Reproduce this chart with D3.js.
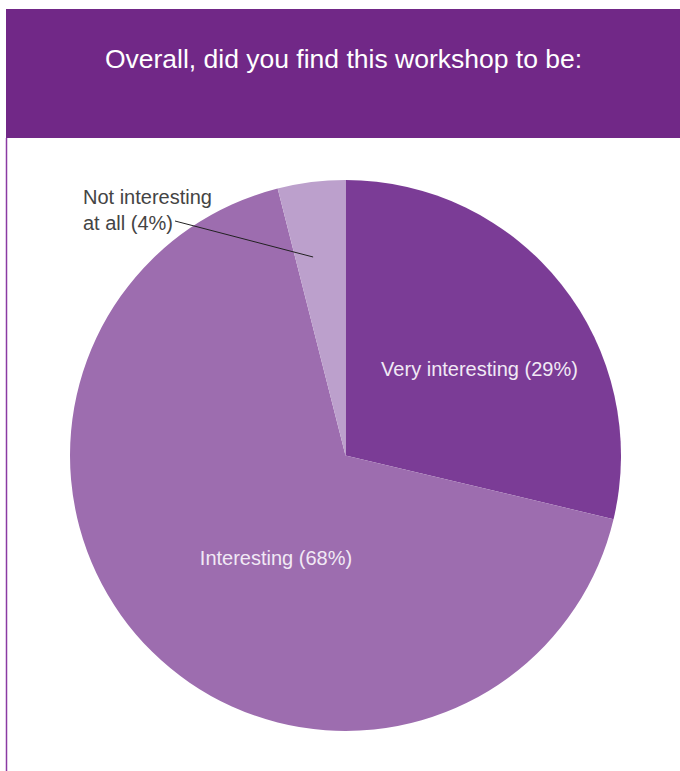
<!DOCTYPE html>
<html>
<head>
<meta charset="utf-8">
<script src="https://cdn.jsdelivr.net/npm/d3@7"></script>
<style>
  html, body { margin: 0; padding: 0; background: #fff; }
  svg { display: block; }
  text { font-family: "Liberation Sans", Arial, Helvetica, sans-serif; }
</style>
</head>
<body>
<svg id="chart" width="680" height="771"></svg>
<script>
// Survey responses, clockwise from 12 o'clock
const categories = ["Very interesting", "Interesting", "Not interesting at all"];
const percents = [29, 68, 4];
const sliceColors = ["#7b3c96", "#9d6daf", "#bca0cc"];
const title = "Overall, did you find this workshop to be:";

const svg = d3.select("#chart");
const W = 680, H = 771;

// Header band
svg.append("rect")
  .attr("x", 6).attr("y", 9).attr("width", W - 6).attr("height", 129)
  .attr("fill", "#712887");
svg.append("text")
  .attr("x", 343.5).attr("y", 68)
  .attr("text-anchor", "middle")
  .attr("fill", "#ffffff")
  .attr("font-size", 26.5)
  .text(title);

// Left frame rule below the header
svg.append("line")
  .attr("x1", 6.5).attr("x2", 6.5).attr("y1", 138).attr("y2", H)
  .attr("stroke", "#8a3aa3").attr("stroke-width", 1.5);

// Pie
const cx = 345.5, cy = 455.5, R = 275.5;
const data = categories.map((c, i) => ({ cat: c, value: percents[i], color: sliceColors[i] }));
const pie = d3.pie().value(d => d.value).sort(null);
const arc = d3.arc().innerRadius(0).outerRadius(R);
const arcs = pie(data);

const g = svg.append("g").attr("transform", `translate(${cx},${cy})`);
g.selectAll("path.slice")
  .data(arcs)
  .join("path")
  .attr("class", "slice")
  .attr("d", arc)
  .attr("fill", d => d.data.color);

// In-slice labels
const labelPos = [
  { x: 479.5, y: 376 },
  { x: 276, y: 565 }
];
[0, 1].forEach(i => {
  svg.append("text")
    .attr("x", labelPos[i].x).attr("y", labelPos[i].y)
    .attr("text-anchor", "middle")
    .attr("fill", "#f1e9f5")
    .attr("font-size", 20)
    .text(`${categories[i]} (${percents[i]}%)`);
});

// Outside label with a leader line into the small slice
const small = arcs[2];
const tipAngle = small.startAngle + 0.35 * (small.endAngle - small.startAngle);
const tip = d3.pointRadial(tipAngle, R * 0.73);
svg.append("line")
  .attr("x1", 175).attr("y1", 221)
  .attr("x2", cx + tip[0]).attr("y2", cy + tip[1])
  .attr("stroke", "#222").attr("stroke-width", 1);

const outer = svg.append("text")
  .attr("fill", "#444")
  .attr("font-size", 20);
outer.append("tspan").attr("x", 83).attr("y", 204).text("Not interesting");
outer.append("tspan").attr("x", 83).attr("y", 230).text(`at all (${percents[2]}%)`);
</script>
</body>
</html>
